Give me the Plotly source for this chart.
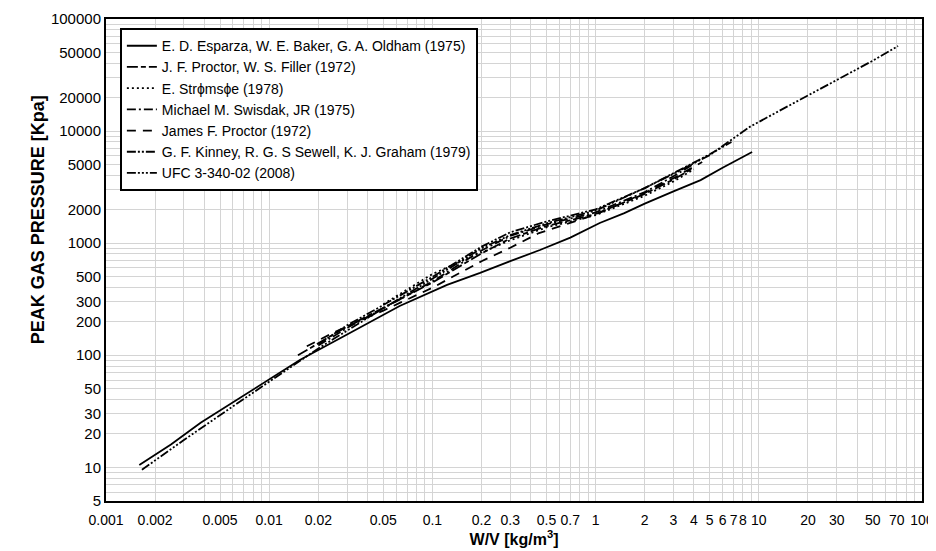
import plotly.graph_objects as go

# ---- data ----
esparza_x = [0.0016, 0.0025, 0.0038, 0.006, 0.0097, 0.0155, 0.03, 0.063, 0.123, 0.196, 0.3, 0.456, 0.7, 1.06, 1.5, 2.0, 3.0, 4.4, 6.0, 9.1]
esparza_y = [10.5, 16, 25, 38, 60, 91, 153, 275, 424, 542, 690, 869, 1120, 1513, 1850, 2250, 2900, 3650, 4700, 6500]

proctor_filler_x = [0.015, 0.02, 0.03, 0.05, 0.1, 0.2, 0.3, 0.5, 1.0, 2.0, 3.0, 4.0]
proctor_filler_y = [100, 128, 180, 265, 445, 810, 1100, 1420, 1820, 2750, 3700, 4700]

stromsoe_x = [0.05, 0.1, 0.15, 0.2, 0.3, 0.5, 1.0, 2.0, 3.0, 4.0]
stromsoe_y = [285, 530, 690, 830, 1060, 1380, 1780, 2650, 3550, 4550]

swisdak_x = [0.02, 0.03, 0.05, 0.1, 0.2, 0.3, 0.5, 1.0, 2.0, 3.0, 4.0]
swisdak_y = [122, 175, 262, 455, 860, 1160, 1470, 1880, 2850, 3950, 5100]

proctor_x = [0.017, 0.025, 0.035, 0.05, 0.1, 0.2, 0.3, 0.45, 1.0, 2.0, 3.0, 4.5]
proctor_y = [120, 160, 200, 250, 400, 690, 910, 1230, 1800, 2800, 3800, 5300]

kinney_x = [0.02, 0.03, 0.05, 0.1, 0.2, 0.3, 0.5, 1.0, 2.0, 3.0, 5.0, 6.8]
kinney_y = [125, 185, 280, 500, 930, 1250, 1560, 2000, 3100, 4200, 6200, 8000]

ufc_x = [0.00166, 0.003, 0.006, 0.01, 0.02, 0.05, 0.1, 0.2, 0.3, 0.5, 1.0, 2.0, 3.0, 5.0, 8.8, 15, 31.5, 50, 71.3]
ufc_y = [9.5, 17.5, 35, 58, 115, 262, 480, 900, 1180, 1500, 1950, 3100, 4150, 6100, 10900, 16600, 29500, 42500, 57400]

series_names = [
    "E. D. Esparza, W. E. Baker, G. A. Oldham (1975)",
    "J. F. Proctor, W. S. Filler (1972)",
    "E. Str\u03d5ms\u03d5e (1978)",
    "Michael M. Swisdak, JR (1975)",
    "James F. Proctor (1972)",
    "G. F. Kinney, R. G. S Sewell, K. J. Graham (1979)",
    "UFC 3-340-02 (2008)",
]

x_tick_labels = ["0.001", "0.002", "0.005", "0.01", "0.02", "0.05", "0.1", "0.2", "0.3", "0.5", "0.7",
                 "1", "2", "3", "4", "5", "6", "7", "8", "10", "20", "30", "50", "70", "100"]
y_tick_labels = ["5", "10", "20", "30", "50", "100", "200", "300", "500", "1000", "2000", "5000",
                 "10000", "20000", "50000", "100000"]

# ---- styles ----
dashes = [
    "solid",
    "11px,3px,5px,3px",
    "2px,3px",
    "9px,3px,2px,3px",
    "9px,7px",
    "9px,2px,2px,2px,2px,2px",
    "9px,2px,2px,2px,2px,2px,2px,2px",
]

data = [
    (esparza_x, esparza_y), (proctor_filler_x, proctor_filler_y), (stromsoe_x, stromsoe_y),
    (swisdak_x, swisdak_y), (proctor_x, proctor_y), (kinney_x, kinney_y), (ufc_x, ufc_y),
]

fig = go.Figure()
for (xs, ys), name, d in zip(data, series_names, dashes):
    fig.add_trace(go.Scatter(x=xs, y=ys, mode="lines", name=name,
                             line=dict(color="black", width=1.8, dash=d)))


def grid_values(lo_exp, hi_exp):
    vals = []
    for e in range(lo_exp, hi_exp):
        for m in range(1, 10):
            vals.append(round(m * 10 ** e, 6))
    vals.append(round(10 ** hi_exp, 6))
    return vals


def fmt(v):
    return ("%.6f" % v).rstrip("0").rstrip(".")


xg = grid_values(-3, 2)
yg = [v for v in grid_values(0, 5) if v >= 5]
x_text = [fmt(v) if fmt(v) in x_tick_labels else "" for v in xg]
y_text = [fmt(v) if fmt(v) in y_tick_labels else "" for v in yg]

font_family = "Arial, Liberation Sans, sans-serif"

# the page body adds an 8px offset; the figure is sized to fit the window
fig.update_layout(
    width=928, height=543,
    margin=dict(l=98, r=14, t=11, b=50),
    paper_bgcolor="white", plot_bgcolor="white",
    font=dict(family=font_family, color="black", size=14),
    showlegend=True,
    legend=dict(x=0.017, y=0.981, xanchor="left", yanchor="top",
                bordercolor="black", borderwidth=2, bgcolor="white",
                font=dict(size=14, family=font_family, color="black"),
                itemwidth=30, tracegroupgap=0),
    xaxis=dict(type="log", range=[-3, 2], tickmode="array", tickvals=xg, ticktext=x_text,
               tickangle=0, automargin=False, ticklabeloverflow="allow", ticklabelstandoff=5,
               showgrid=True, gridcolor="#d4d4d4", gridwidth=1,
               showline=True, linecolor="black", linewidth=2, mirror=True,
               ticks="", tickfont=dict(size=14, family=font_family),
               title=dict(text="<b>W/V [kg/m<sup>3</sup>]</b>", font=dict(size=16, family=font_family), standoff=1),
               zeroline=False),
    yaxis=dict(type="log", range=[0.69897, 5], tickmode="array", tickvals=yg, ticktext=y_text,
               automargin=False, ticklabeloverflow="allow",
               showgrid=True, gridcolor="#d4d4d4", gridwidth=1,
               showline=True, linecolor="black", linewidth=2, mirror=True,
               ticks="", tickfont=dict(size=15, family=font_family),
               zeroline=False),
    annotations=[dict(text="<b>PEAK GAS PRESSURE [Kpa]</b>", textangle=-90,
                      xref="paper", yref="paper", x=-0.083, y=0.583,
                      xanchor="center", yanchor="middle", showarrow=False,
                      font=dict(size=18, family=font_family, color="black"))],
)

fig.write_html("out.html")
